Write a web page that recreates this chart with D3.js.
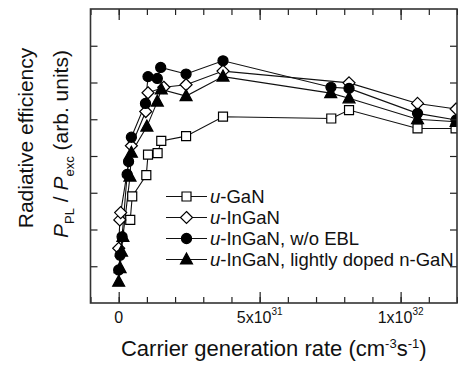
<!DOCTYPE html>
<html>
<head>
<meta charset="utf-8">
<script src="https://cdn.jsdelivr.net/npm/d3@7"></script>
<style>
  body { margin: 0; background: #fff; }
  svg { font-family: "Liberation Sans", Arial, sans-serif; }
</style>
</head>
<body>
<svg width="458" height="365"></svg>
<script>
// carrier generation rate in units of 1e31 cm^-3 s^-1, efficiency in arb. units
const ganPts = [[0.41, 2.26], [0.48, 2.9], [0.98, 3.48], [1.04, 4.04], [1.38, 4.08], [1.51, 4.41],
    [2.39, 4.54], [3.70, 5.07], [7.54, 5.02], [8.17, 5.25], [10.6, 4.75], [11.95, 4.75]];
const ingaPts = [[0.0, 1.49], [0.04, 2.26], [0.07, 2.46], [0.45, 4.28], [0.96, 5.21], [1.04, 5.72],
    [1.6, 5.87], [2.39, 5.94], [3.70, 6.31], [8.17, 5.99], [10.6, 5.43], [11.97, 5.28]];
const noEblPts = [[0.0, 0.9], [0.05, 1.3], [0.12, 1.8], [0.3, 3.5], [0.35, 3.85], [0.45, 4.51],
    [0.95, 5.43], [1.04, 6.16], [1.37, 6.11], [1.49, 6.41], [2.39, 6.23], [3.70, 6.59],
    [7.53, 5.87], [8.17, 5.84], [10.6, 5.16], [11.97, 4.98]];
const dopedPts = [[0.0, 0.58], [0.05, 0.95], [0.1, 1.4], [0.15, 1.8], [0.4, 3.44], [0.45, 4.09],
    [1.0, 4.8], [1.37, 5.48], [1.51, 5.81], [2.39, 5.63], [3.70, 6.16], [7.52, 5.71],
    [8.17, 5.57], [10.6, 5.0], [11.97, 4.93]];

const seriesNames = ["-GaN", "-InGaN", "-InGaN, w/o EBL", "-InGaN, lightly doped n-GaN"];
const xMajor = [0, 5, 10];
const xMajorLabels = [["0", ""], ["5x10", "31"], ["1x10", "32"]];
const xMinor = d3.range(-1, 13);
const yTicks = d3.range(1, 8);

const series = [
    { pts: ganPts, shape: "square", fill: "#fff" },
    { pts: ingaPts, shape: "diamond", fill: "#fff" },
    { pts: noEblPts, shape: "circle", fill: "#000" },
    { pts: dopedPts, shape: "triangle", fill: "#000" }
];

const pLeft = 90.5, pRight = 457, pTop = 9, pBottom = 303;
const svg = d3.select("svg");

const x = d3.scaleLinear().domain([-1, 12]).range([pLeft, pRight]);
const y = d3.scaleLinear().domain([0, 8]).range([pBottom, pTop]);

svg.append("clipPath").attr("id", "plot")
    .append("rect")
    .attr("x", pLeft).attr("y", pTop)
    .attr("width", pRight - pLeft).attr("height", pBottom - pTop);

function symbolPath(shape) {
    if (shape == "square") return "M-4.5,-4.5h9v9h-9z";
    if (shape == "diamond") return "M0,-6L6,0L0,6L-6,0z";
    if (shape == "triangle") return "M0,-6.5L6,4.5L-6,4.5z";
    return d3.symbol(d3.symbolCircle, 80)();
}

const plot = svg.append("g").attr("clip-path", "url(#plot)");
const line = d3.line().x(d => x(d[0])).y(d => y(d[1]));

series.forEach(s => {
    plot.append("path")
        .attr("d", line(s.pts))
        .attr("fill", "none")
        .attr("stroke", "#111")
        .attr("stroke-width", 1.1);
});
series.forEach(s => {
    plot.selectAll(null)
        .data(s.pts)
        .enter()
        .append("path")
        .attr("transform", d => `translate(${x(d[0])},${y(d[1])})`)
        .attr("d", symbolPath(s.shape))
        .attr("fill", s.fill)
        .attr("stroke", "#000")
        .attr("stroke-width", 1.2);
});

// axes, ticks pointing inward
function styleAxis(g) {
    g.selectAll(".domain").remove();
    g.selectAll("line").attr("stroke", "#222").attr("stroke-width", 1.2);
}
svg.append("g").attr("transform", `translate(0,${pBottom})`)
    .call(d3.axisBottom(x).tickValues(xMinor).tickSize(-6).tickFormat("")).call(styleAxis);
svg.append("g").attr("transform", `translate(0,${pBottom})`)
    .call(d3.axisBottom(x).tickValues(xMajor).tickSize(-11).tickFormat("")).call(styleAxis);
svg.append("g").attr("transform", `translate(0,${pTop})`)
    .call(d3.axisTop(x).tickValues(xMinor).tickSize(-6).tickFormat("")).call(styleAxis);
svg.append("g").attr("transform", `translate(0,${pTop})`)
    .call(d3.axisTop(x).tickValues(xMajor).tickSize(-11).tickFormat("")).call(styleAxis);
svg.append("g").attr("transform", `translate(${pLeft},0)`)
    .call(d3.axisLeft(y).tickValues(yTicks).tickSize(-7).tickFormat("")).call(styleAxis);
svg.append("g").attr("transform", `translate(${pRight},0)`)
    .call(d3.axisRight(y).tickValues(yTicks).tickSize(-7).tickFormat("")).call(styleAxis);

svg.append("rect")
    .attr("x", pLeft).attr("y", pTop)
    .attr("width", pRight - pLeft).attr("height", pBottom - pTop)
    .attr("fill", "none")
    .attr("stroke", "#333")
    .attr("stroke-width", 1.6);

// x tick labels
xMajor.forEach((v, i) => {
    const t = svg.append("text")
        .attr("x", x(v))
        .attr("y", 323)
        .attr("text-anchor", "middle")
        .attr("font-size", 16)
        .attr("fill", "#111");
    t.append("tspan").text(xMajorLabels[i][0]);
    if (xMajorLabels[i][1]) {
        t.append("tspan").attr("dy", -8).attr("font-size", 10).text(xMajorLabels[i][1]);
    }
});

// x title
const xt = svg.append("text")
    .attr("x", (pLeft + pRight) / 2)
    .attr("y", 356)
    .attr("text-anchor", "middle")
    .attr("font-size", 22)
    .attr("fill", "#111");
xt.append("tspan").text("Carrier generation rate (cm");
xt.append("tspan").attr("dy", -8).attr("font-size", 13).text("-3");
xt.append("tspan").attr("dy", 8).text("s");
xt.append("tspan").attr("dy", -8).attr("font-size", 13).text("-1");
xt.append("tspan").attr("dy", 8).text(")");

// y title
svg.append("text")
    .attr("transform", "translate(33,138) rotate(-90)")
    .attr("text-anchor", "middle")
    .attr("font-size", 21)
    .attr("fill", "#111")
    .text("Radiative efficiency");
const yt = svg.append("text")
    .attr("transform", "translate(68,144) rotate(-90)")
    .attr("text-anchor", "middle")
    .attr("font-size", 21)
    .attr("fill", "#111");
yt.append("tspan").attr("font-style", "italic").text("P");
yt.append("tspan").attr("dy", 6).attr("font-size", 13).text("PL");
yt.append("tspan").attr("dy", -6).text(" / ");
yt.append("tspan").attr("font-style", "italic").text("P");
yt.append("tspan").attr("dy", 6).attr("font-size", 13).text("exc");
yt.append("tspan").attr("dy", -6).text(" (arb. units)");

// legend
const legendY = [196.5, 217.5, 238.5, 259.5];
series.forEach((s, i) => {
    const g = svg.append("g").attr("transform", `translate(0,${legendY[i]})`);
    g.append("line").attr("x1", 166).attr("x2", 207).attr("y1", 0).attr("y2", 0)
        .attr("stroke", "#111").attr("stroke-width", 1.1);
    g.append("path").attr("transform", "translate(186.5,0)")
        .attr("d", symbolPath(s.shape))
        .attr("fill", s.fill).attr("stroke", "#000").attr("stroke-width", 1.2);
    const t = g.append("text").attr("x", 210).attr("y", 6.5)
        .attr("font-size", 18.5).attr("fill", "#111");
    t.append("tspan").attr("font-style", "italic").text("u");
    t.append("tspan").text(seriesNames[i]);
});
</script>
</body>
</html>
